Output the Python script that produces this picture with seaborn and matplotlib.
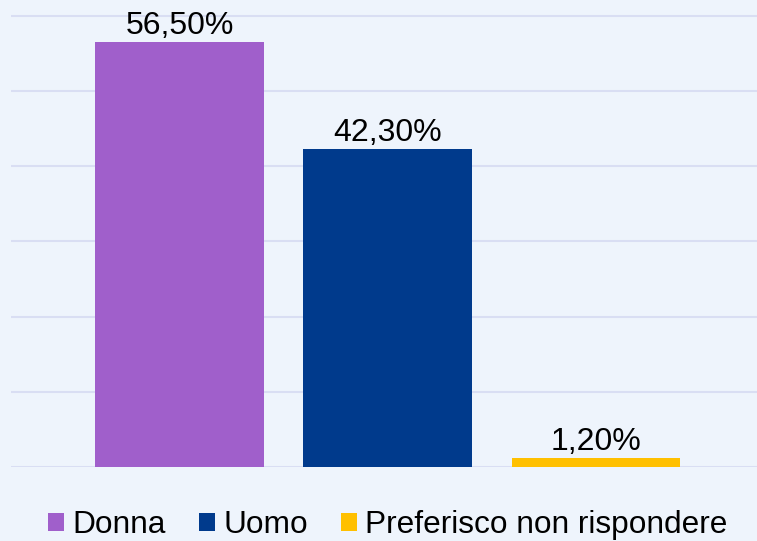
import seaborn as sns
import matplotlib.pyplot as plt

# Dati del grafico
categorie = ['Donna', 'Uomo', 'Preferisco non rispondere']
percentuali = [56.5, 42.3, 1.2]
colori = ['#A05FCB', '#003A8C', '#FFC000']

sns.set_theme(style='white')
plt.rcParams['font.family'] = ['Liberation Sans', 'DejaVu Sans']
plt.rcParams['text.color'] = 'black'

fig = plt.figure(figsize=(7.57, 5.41), dpi=100)
fig.patch.set_facecolor('#EEF4FC')
ax = fig.add_axes([11 / 757, 1 - 467 / 541, 1 - 11 / 757, (467 - 10) / 541])
ax.set_facecolor('#EEF4FC')

sns.barplot(x=categorie, y=percentuali, hue=categorie, palette=dict(zip(categorie, colori)),
            width=0.81, dodge=False, legend=True, ax=ax, saturation=1, linewidth=0)

# Griglia orizzontale
for y in range(0, 70, 10):
    ax.axhline(y, color='#D9DEF3', lw=1.5, zorder=0)

ax.set_ylim(0, (467 - 10) / 7.52)
ax.set_xlim(-0.809, 2.773)
ax.set_xticks([])
ax.set_yticks([])
ax.set_xlabel('')
ax.set_ylabel('')
sns.despine(ax=ax, left=True, bottom=True)

# Etichette sopra le barre
for cont in ax.containers:
    ax.bar_label(cont, labels=[f"{v:.2f}".replace('.', ',') + '%' for v in cont.datavalues],
                 fontsize=23, color='black', padding=1)

sns.move_legend(ax, 'center', bbox_to_anchor=(388 / 757, 1 - 525 / 541),
                bbox_transform=fig.transFigure, ncol=3, frameon=False, title=None,
                fontsize=22.8, handlelength=0.5, handleheight=0.5, handletextpad=0.26,
                columnspacing=1.05, borderpad=0, borderaxespad=0)
leg = ax.get_legend()
for t in leg.get_texts():
    t.set_color('black')
for h in leg.legend_handles:
    h.set_edgecolor('none')

fig.savefig('out.png', dpi=100, facecolor=fig.get_facecolor())
